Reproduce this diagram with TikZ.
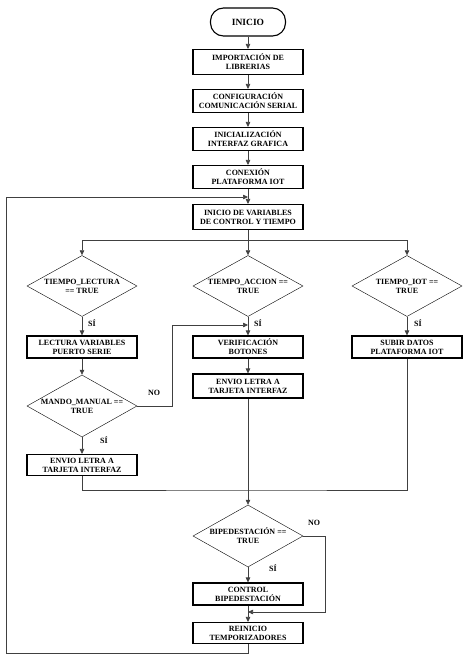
\documentclass[tikz,border=0pt]{standalone}
\usepackage{fontspec}
\setmainfont{Liberation Serif}
\usetikzlibrary{shapes.geometric,arrows.meta,positioning}

\begin{document}
\begin{tikzpicture}[x=1pt, y=-1pt,
  every node/.style={align=center, font=\fontsize{8}{9}\selectfont\bfseries},
  caja/.style={draw, line width=1.1pt, rectangle, minimum width=110pt, minimum height=23pt, inner sep=1pt},
  decision/.style={draw, thin, diamond, aspect=1.8, minimum width=110pt, minimum height=61pt, inner sep=0pt},
  conector/.style={draw=black!75, line width=0.6pt},
  flecha/.style={conector, -{Triangle[length=5pt, width=4.5pt]}},
  etiqueta/.style={font=\fontsize{8}{9}\selectfont\bfseries, inner sep=0pt}]
  \useasboundingbox (0,0) rectangle (475,659);

  % Inicio y configuracion
  \node[draw, line width=1.1pt, rounded corners=13pt, minimum width=75pt, minimum height=28pt,
        font=\fontsize{9.5}{10}\selectfont\bfseries] (inicio) at (248,22) {INICIO};
  \node[caja, minimum height=25pt] (libs) at (248,62) {IMPORTACIÓN DE\\LIBRERIAS};
  \node[caja] (serial) at (248,101) {CONFIGURACIÓN\\COMUNICACIÓN SERIAL};
  \node[caja] (interfaz) at (248,139) {INICIALIZACIÓN\\INTERFAZ GRAFICA};
  \node[caja] (iot) at (248,177) {CONEXIÓN\\PLATAFORMA IOT};
  \node[caja, minimum height=25pt] (vars) at (248,217) {INICIO DE VARIABLES\\DE CONTROL Y TIEMPO};

  % Tres ramas
  \node[decision] (lectura) at (82,286) {TIEMPO\_LECTURA\\== TRUE};
  \node[decision] (accion) at (248,286) {TIEMPO\_ACCION ==\\TRUE};
  \node[decision] (tiot) at (407,286) {TIEMPO\_IOT ==\\TRUE};

  \node[caja, minimum height=22pt] (puerto) at (82,347) {LECTURA VARIABLES\\PUERTO SERIE};
  \node[caja, minimum height=22pt] (botones) at (248,347) {VERIFICACIÓN\\BOTONES};
  \node[caja, minimum height=22pt] (subir) at (407,347) {SUBIR DATOS\\PLATAFORMA IOT};
  \node[caja, minimum height=24pt] (envio2) at (248,386) {ENVIO LETRA A\\TARJETA INTERFAZ};
  \node[decision, minimum height=62pt] (mando) at (82,406) {MANDO\_MANUAL ==\\TRUE};
  \node[caja, minimum height=21pt] (envio1) at (82,465) {ENVIO LETRA A\\TARJETA INTERFAZ};

  % Bipedestacion
  \node[decision, minimum height=62pt] (bipe) at (248,536) {BIPEDESTACIÓN ==\\TRUE};
  \node[caja, minimum height=22pt] (control) at (248,594) {CONTROL\\BIPEDESTACIÓN};
  \node[caja, minimum height=21pt] (reinicio) at (248,633) {REINICIO\\TEMPORIZADORES};

  % Etiquetas
  \node[etiqueta] (si1) at (92,323) {SÍ};
  \node[etiqueta] (si2) at (258,323) {SÍ};
  \node[etiqueta] (si3) at (418,323) {SÍ};
  \node[etiqueta] (si4) at (104,440) {SÍ};
  \node[etiqueta] (no1) at (154,393) {NO};
  \node[etiqueta] (si5) at (273,568) {SÍ};
  \node[etiqueta] (no2) at (314,523) {NO};

  % Puntos de union
  \coordinate (rama) at (248,240);
  \coordinate (union) at (248,490);
  \coordinate (retorno) at (248,197);
  \coordinate (verif) at (248,325);
  \coordinate (salto) at (248,612);

  % Conectores
  \draw[flecha] (inicio) -- (libs);
  \draw[flecha] (libs) -- (serial);
  \draw[flecha] (serial) -- (interfaz);
  \draw[flecha] (interfaz) -- (iot);
  \draw[flecha] (iot) -- (vars);
  \draw[flecha] (vars) -- (accion);
  \draw[flecha] (rama) -| (lectura.north);
  \draw[flecha] (rama) -| (tiot.north);
  \draw[flecha] (lectura) -- (puerto);
  \draw[flecha] (puerto) -- (mando);
  \draw[flecha] (mando) -- (envio1);
  \draw[flecha] (mando.east) -| (172,325) -- (verif);
  \draw[flecha] (accion) -- (botones);
  \draw[flecha] (botones) -- (envio2);
  \draw[flecha] (tiot) -- (subir);
  \draw[conector] (envio1.south) |- (union) -| (subir.south);
  \draw[flecha] (envio2) -- (bipe);
  \draw[flecha] (bipe) -- (control);
  \draw[flecha] (control) -- (reinicio);
  \draw[flecha] (bipe.east) -| (325,612) -- (salto);
  \draw[flecha] (reinicio.south) |- (6,653) |- (retorno);
\end{tikzpicture}
\end{document}
